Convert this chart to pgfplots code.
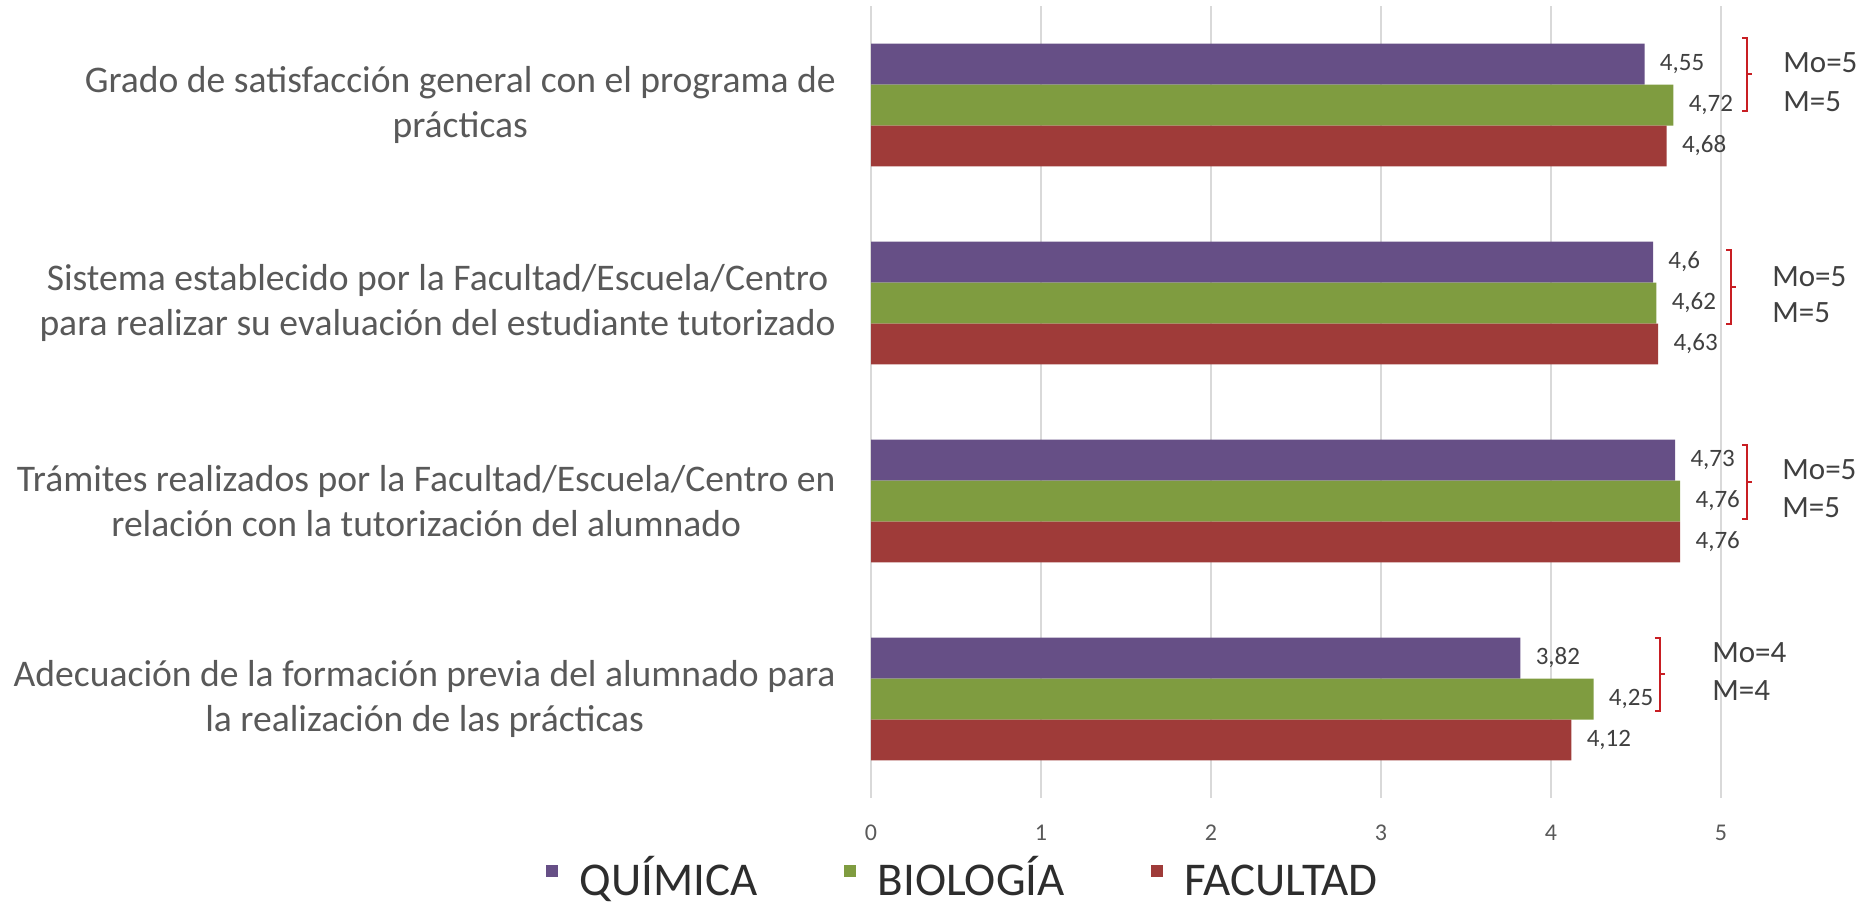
\documentclass[border=0pt]{standalone}
\usepackage{fontspec}
\setmainfont{Carlito}
\usepackage{pgfplots}
\pgfplotsset{compat=1.18}
\definecolor{qui}{RGB}{102,79,134}
\definecolor{bio}{RGB}{127,156,64}
\definecolor{fac}{RGB}{159,59,57}
\definecolor{txtgray}{RGB}{89,89,89}
\definecolor{lblc}{RGB}{64,64,64}
\definecolor{legc}{RGB}{45,45,45}
\definecolor{gridc}{RGB}{217,217,217}
\definecolor{brk}{RGB}{200,30,35}
\begin{document}
\begin{tikzpicture}
\useasboundingbox (0,0) rectangle (936.5pt,453pt);
\begin{axis}[
  at={(435.5pt,54pt)}, anchor=south west,
  scale only axis, width=425pt, height=396pt,
  xbar, bar width=0.207,
  xmin=0, xmax=5, ymin=-0.5, ymax=3.5, y dir=reverse,
  xtick={0,1,2,3,4,5}, ytick={0,1,2,3},
  yticklabels={{Grado de satisfacción general con el programa de\\prácticas},
               {Sistema establecido por la Facultad/Escuela/Centro\\para realizar su evaluación del estudiante tutorizado},
               {Trámites realizados por la Facultad/Escuela/Centro en\\relación con la tutorización del alumnado},
               {Adecuación de la formación previa del alumnado para\\la realización de las prácticas}},
  yticklabel style={align=center, font=\fontsize{18.8}{22.7}\selectfont, text=txtgray, inner sep=0pt, xshift=-17.5pt},
  xticklabel style={font=\fontsize{12}{14}\selectfont, text=txtgray, inner sep=0pt, yshift=-13.5pt},
  /pgf/number format/assume math mode=true,
  /pgf/number format/use comma,
  major tick length=0pt,
  axis line style={draw=none},
  xmajorgrids, grid style={gridc, line width=0.75pt},
  clip=false,
  point meta=x,
  nodes near coords={\pgfmathprintnumber{\pgfplotspointmeta}},
  every node near coord/.append style={font=\fontsize{12.5}{14}\selectfont, text=lblc, anchor=west, inner sep=0pt, xshift=7.5pt},
  legend columns=3,
  legend style={at={(0.109,-0.1)}, anchor=center, draw=none, fill=none,
    font=\fontsize{23.5}{28}\selectfont, text=legc,
    nodes={inner ysep=0.5pt},
    /tikz/every odd column/.append style={column sep=9pt},
    /tikz/every even column/.append style={column sep=41pt}},
]
\addplot[fill=qui, draw=none, bar shift=-0.207,
  legend image code/.code={\fill[qui] (0pt,0pt) rectangle (6pt,6pt);}]
  coordinates {(4.55,0) (4.6,1) (4.73,2) (3.82,3)};
\addlegendentry{\vphantom{Í}QUÍMICA}
\addplot[fill=bio, draw=none, bar shift=0,
  legend image code/.code={\fill[bio] (0pt,0pt) rectangle (6pt,6pt);}]
  coordinates {(4.72,0) (4.62,1) (4.76,2) (4.25,3)};
\addlegendentry{\vphantom{ÍQ}BIOLOGÍA}
\addplot[fill=fac, draw=none, bar shift=0.207,
  legend image code/.code={\fill[fac] (0pt,0pt) rectangle (6pt,6pt);}]
  coordinates {(4.68,0) (4.63,1) (4.76,2) (4.12,3)};
\addlegendentry{\vphantom{ÍQ}FACULTAD}

% brackets
\tikzset{bk/.style={brk, line width=0.75pt}}
\draw[bk] ([xshift=-2.5pt]axis cs:5.153,-0.338) -- (axis cs:5.153,-0.338) -- (axis cs:5.153,0.030) -- ([xshift=-2.5pt]axis cs:5.153,0.030);
\draw[bk] (axis cs:5.153,-0.157) -- ([xshift=2.5pt]axis cs:5.153,-0.157);
\draw[bk] ([xshift=-2.5pt]axis cs:5.059,0.732) -- (axis cs:5.059,0.732) -- (axis cs:5.059,1.106) -- ([xshift=-2.5pt]axis cs:5.059,1.106);
\draw[bk] (axis cs:5.059,0.919) -- ([xshift=2.5pt]axis cs:5.059,0.919);
\draw[bk] ([xshift=-2.5pt]axis cs:5.153,1.717) -- (axis cs:5.153,1.717) -- (axis cs:5.153,2.091) -- ([xshift=-2.5pt]axis cs:5.153,2.091);
\draw[bk] (axis cs:5.153,1.904) -- ([xshift=2.5pt]axis cs:5.153,1.904);
\draw[bk] ([xshift=-2.5pt]axis cs:4.641,2.692) -- (axis cs:4.641,2.692) -- (axis cs:4.641,3.061) -- ([xshift=-2.5pt]axis cs:4.641,3.061);
\draw[bk] (axis cs:4.641,2.874) -- ([xshift=2.5pt]axis cs:4.641,2.874);

\tikzset{ann/.style={anchor=west, font=\fontsize{15.5}{18}\selectfont, text=lblc, inner sep=0pt}}
\node[ann] at (axis cs:5.365,-0.212) {Mo=5};
\node[ann] at (axis cs:5.365,-0.015) {M=5};
\node[ann] at (axis cs:5.300,0.869) {Mo=5};
\node[ann] at (axis cs:5.300,1.050) {M=5};
\node[ann] at (axis cs:5.359,1.843) {Mo=5};
\node[ann] at (axis cs:5.359,2.035) {M=5};
\node[ann] at (axis cs:4.947,2.768) {Mo=4};
\node[ann] at (axis cs:4.947,2.955) {M=4};
\end{axis}
\end{tikzpicture}
\end{document}
